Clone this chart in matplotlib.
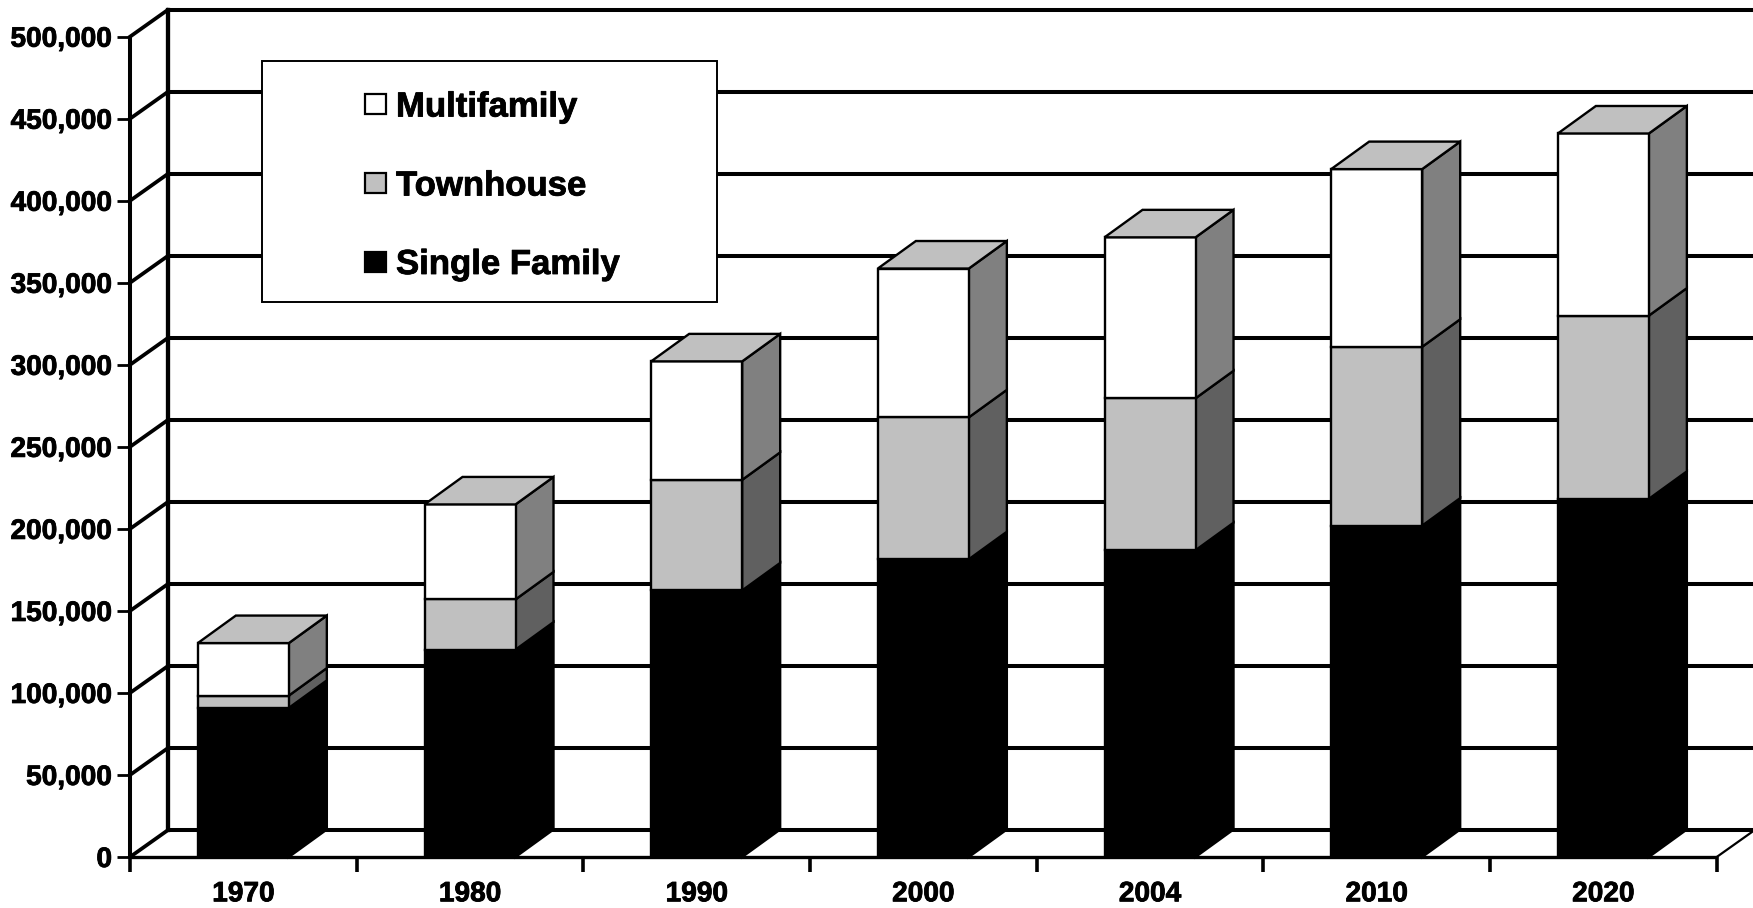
import numpy as np
import matplotlib
matplotlib.use("Agg")
import matplotlib.pyplot as plt
import matplotlib.patheffects as pe
from matplotlib.patches import Polygon, Rectangle

# values
years = ["1970", "1980", "1990", "2000", "2004", "2010", "2020"]
single_family = [90900, 126400, 162500, 181500, 187000, 202000, 218300]
townhouse = [7500, 30600, 67400, 86500, 92600, 109000, 111700]
multifamily = [32000, 57900, 72200, 90700, 98100, 108300, 111000]
y_ticks = [0, 50000, 100000, 150000, 200000, 250000, 300000, 350000, 400000, 450000, 500000]

series = [
    ("Single Family", single_family, "#000000", "#000000"),
    ("Townhouse", townhouse, "#C0C0C0", "#606060"),
    ("Multifamily", multifamily, "#FFFFFF", "#808080"),
]

W, H = 1753, 908
LEFT, RIGHT, BOTTOM, TOP = 130.0, 1716.7, 857.0, 36.7  # front plane, pixels

plt.rcParams["font.family"] = ["Liberation Sans", "DejaVu Sans"]
plt.rcParams["font.weight"] = "bold"

fig = plt.figure(figsize=(W / 100, H / 100), dpi=100, facecolor="white")
ax = fig.add_axes([LEFT / W, 1 - BOTTOM / H, (RIGHT - LEFT) / W, (BOTTOM - TOP) / H])
ax.set_xlim(0, len(years))
ax.set_ylim(0, 500000)
ax.patch.set_visible(False)
for s in ax.spines.values():
    s.set_visible(False)

# pixel sizes converted to data units
px_x = len(years) / (RIGHT - LEFT)
px_y = 500000 / (BOTTOM - TOP)
wall_dx, wall_dy = 37.5 * px_x, 26.6 * px_y
bar_dx, bar_dy = 38 * px_x, 27.5 * px_y
bar_w = 91 * px_x
n = len(years)

# back wall and left wall
for v in y_ticks:
    ax.plot([wall_dx, n + wall_dx], [v + wall_dy, v + wall_dy], color="black", lw=2.9,
            clip_on=False, zorder=1, solid_capstyle="butt")
    ax.plot([0, wall_dx], [v, v + wall_dy], color="black", lw=2.7, clip_on=False, zorder=1)
ax.plot([wall_dx, wall_dx], [wall_dy, 500000 + wall_dy], color="black", lw=3.1, clip_on=False, zorder=1)
ax.plot([n + wall_dx, n + wall_dx], [wall_dy, 500000 + wall_dy], color="black", lw=1.6, clip_on=False, zorder=1)
ax.plot([n, n + wall_dx], [0, wall_dy], color="black", lw=1.6, clip_on=False, zorder=1)
ax.plot([0, 0], [0, 500000], color="black", lw=2.9, clip_on=False, zorder=6, solid_capstyle="butt")
ax.plot([0, n], [0, 0], color="black", lw=2.4, clip_on=False, zorder=6, solid_capstyle="butt")

# stacked 3d bars
for i in range(n):
    x0 = i + 0.5 - bar_w / 2
    x1 = x0 + bar_w
    base = 0
    for name, vals, front, side in series:
        top = base + vals[i]
        ax.add_patch(Polygon([(x1, base), (x1 + bar_dx, base + bar_dy), (x1 + bar_dx, top + bar_dy), (x1, top)],
                             facecolor=side, edgecolor="black", lw=1.7, zorder=3, clip_on=False))
        ax.add_patch(Rectangle((x0, base), bar_w, vals[i], facecolor=front, edgecolor="black",
                               lw=1.7, zorder=4, clip_on=False))
        base = top
    ax.add_patch(Polygon([(x0, base), (x0 + bar_dx, base + bar_dy), (x1 + bar_dx, base + bar_dy), (x1, base)],
                         facecolor="#C0C0C0", edgecolor="black", lw=1.7, zorder=4, clip_on=False))

# ticks
heavy = [pe.withStroke(linewidth=0.6, foreground="black")]
ax.set_yticks(y_ticks)
ax.set_yticklabels([f"{v:,}" for v in y_ticks], fontsize=20.2, path_effects=heavy)
ax.tick_params(axis="y", length=9.4, width=2.0, pad=3.5)
ax.set_xticks(np.arange(n + 1))
ax.set_xticklabels([])
ax.set_xticks(np.arange(n) + 0.5, labels=years, minor=True, fontsize=20.2, path_effects=heavy)
ax.tick_params(axis="x", which="major", length=10.6, width=2.6)
ax.tick_params(axis="x", which="minor", length=0, pad=17.5)

# legend box, placed by hand in figure pixels
def fx(x):
    return x / W

def fy(y):
    return 1 - y / H

fig.add_artist(Rectangle((fx(261.7), fy(301.7)), fx(717.4 - 261.7), (301.7 - 61.3) / H, facecolor="white",
                         edgecolor="black", lw=1.4, transform=fig.transFigure, zorder=10))
for (name, vals, front, side), yc in zip(series, [261.5, 183, 104]):
    fig.add_artist(Rectangle((fx(364.5), fy(yc + 10)), fx(21.8), 20 / H, facecolor=front, edgecolor="black",
                             lw=1.6, transform=fig.transFigure, zorder=11))
    fig.text(fx(396), fy(yc - 0.5), name, fontsize=25, va="center_baseline", ha="left", zorder=11,
             path_effects=heavy)

fig.savefig("out.png", dpi=100, facecolor="white")
